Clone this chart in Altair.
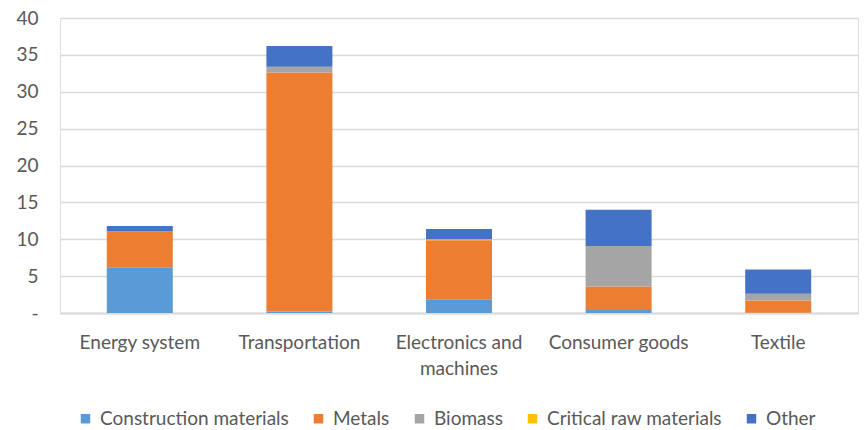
import altair as alt
import pandas as pd

sectors = ["Energy system", "Transportation", "Electronics and machines", "Consumer goods", "Textile"]
materials = ["Construction materials", "Metals", "Biomass", "Critical raw materials", "Other"]
colors = ["#5B9BD5", "#ED7D31", "#A5A5A5", "#FFC000", "#4472C4"]

construction = [6.2, 0.2, 1.85, 0.4, 0.05]
metals = [4.9, 32.4, 8.0, 3.2, 1.65]
biomass = [0.0, 0.8, 0.0, 5.5, 0.9]
critical = [0.0, 0.0, 0.15, 0.0, 0.0]
other = [0.7, 2.8, 1.4, 4.9, 3.3]

series = [construction, metals, biomass, critical, other]
rows = []
for k, (name, vals) in enumerate(zip(materials, series)):
    for s, v in zip(sectors, vals):
        rows.append({"sector": s, "material": name, "value": v, "k": k})
df = pd.DataFrame(rows)

FONT = "Lato"
GREY = "#595959"
FS = 19

chart = alt.Chart(df).mark_bar(size=66).encode(
    x=alt.X("sector:N", sort=sectors, title=None,
            scale=alt.Scale(paddingInner=0.0, paddingOuter=0.0),
            axis=alt.Axis(labelAngle=0, labelFontSize=FS, labelColor=GREY, labelFont=FONT,
                          ticks=False, domainColor="#D9D9D9", domainWidth=2, labelPadding=20,
                          labelLineHeight=26, labelLimit=300,
                          labelExpr="datum.label == 'Electronics and machines' ? ['Electronics and', 'machines'] : datum.label")),
    y=alt.Y("value:Q", stack="zero", title=None,
            scale=alt.Scale(domain=[0, 40], nice=False),
            axis=alt.Axis(values=[0, 5, 10, 15, 20, 25, 30, 35, 40], labelFontSize=FS, labelColor=GREY,
                          labelFont=FONT, ticks=False, domain=False, gridColor="#D9D9D9", gridWidth=1.5,
                          labelPadding=22,
                          labelExpr="datum.value == 0 ? '-' : datum.label")),
    color=alt.Color("material:N", sort=materials,
                    scale=alt.Scale(domain=materials, range=colors),
                    legend=alt.Legend(title=None, orient="none", direction="horizontal",
                                      legendX=16, legendY=391, symbolType="square", symbolSize=90,
                                      symbolStrokeWidth=0, labelFontSize=FS, labelColor=GREY,
                                      labelFont=FONT, columnPadding=20, labelOffset=5,
                                      labelLimit=400)),
    order=alt.Order("k:Q", sort="ascending"),
).properties(
    width=798, height=295,
    padding={"left": 60, "top": 18, "right": 6, "bottom": 117},
    autosize=alt.AutoSizeParams(type="none"),
).configure_view(stroke=None).configure(background="white")

chart.save("out.html", embed_options={"renderer": "svg", "actions": False})
